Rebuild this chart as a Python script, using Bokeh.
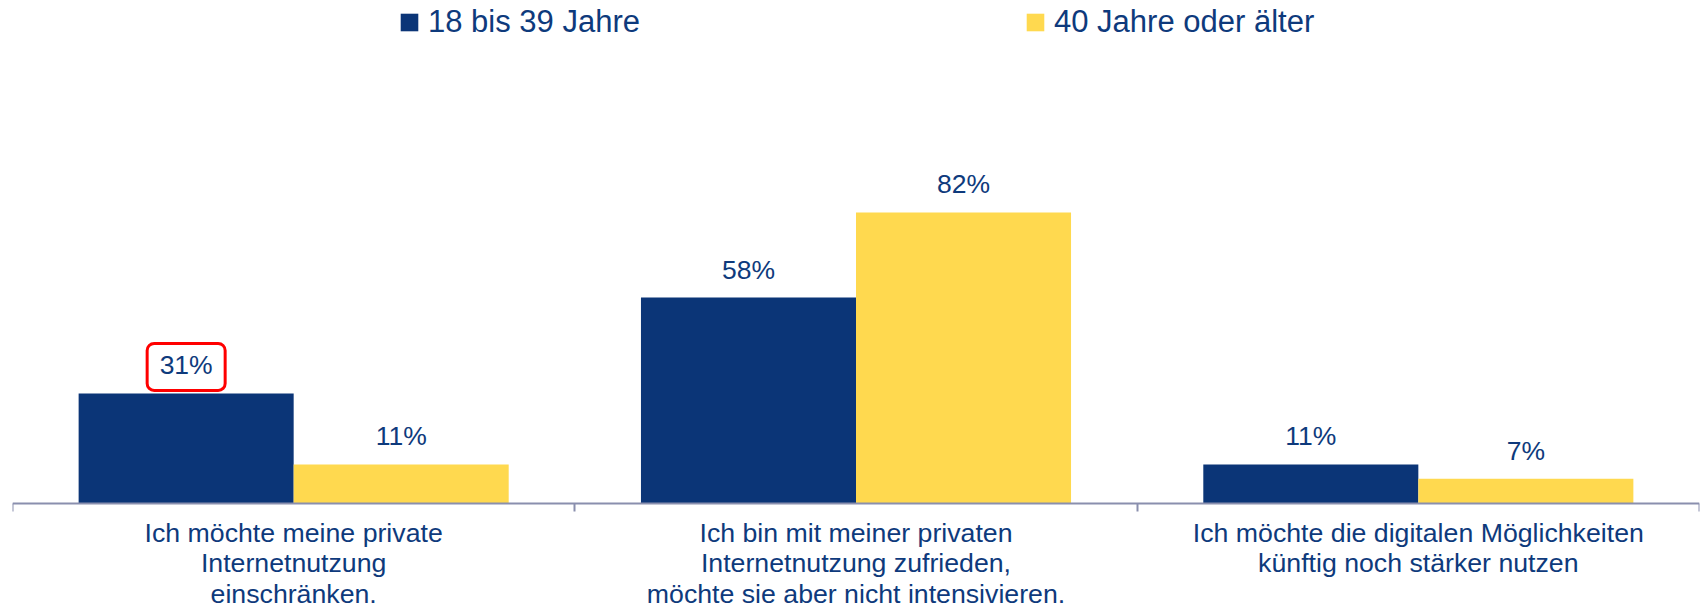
from bokeh.plotting import figure
from bokeh.models import FixedTicker, Legend, LegendItem, Range1d
from bokeh.core.properties import value
from bokeh.embed import file_html
from bokeh.resources import INLINE

# ---- data ----
categories = [
    "Ich möchte meine private\nInternetnutzung\neinschränken.",
    "Ich bin mit meiner privaten\nInternetnutzung zufrieden,\nmöchte sie aber nicht intensivieren.",
    "Ich möchte die digitalen Möglichkeiten\nkünftig noch stärker nutzen",
]
series_names = ["18 bis 39 Jahre", "40 Jahre oder älter"]
young = [31, 58, 11]
old = [11, 82, 7]
highlight_category = 0  # value of the first series that is circled in red

# ---- style ----
BLUE = "#0B3577"
YELLOW = "#FFD94F"
TEXT = "#0E3A7C"
AXIS = "#8A8FAE"
FONT = "Liberation Sans"

W, H = 1702, 607
PX_PER_UNIT = 3.55
ABOVE_PX = 503           # frame px above the zero line
BELOW_PX = H - ABOVE_PX  # frame px below the zero line (room for labels)
Y_END = ABOVE_PX / PX_PER_UNIT
Y_START = -BELOW_PX / PX_PER_UNIT
LEFT, RIGHT = 12, 3
FRAME_W = W - LEFT - RIGHT
px_x = FRAME_W / 3.0

p = figure(width=W, height=H, output_backend="svg", toolbar_location=None,
           x_range=Range1d(0, 3), y_range=Range1d(Y_START, Y_END),
           min_border_left=LEFT, min_border_right=RIGHT, min_border_top=0,
           min_border_bottom=0)
p.outline_line_color = None
p.xgrid.visible = False
p.ygrid.visible = False
p.yaxis.visible = False

bw = 0.3824
n = len(categories)
x_young = [i + 0.5 - bw / 2 for i in range(n)]
x_old = [i + 0.5 + bw / 2 for i in range(n)]

r1 = p.vbar(x=x_young, top=young, width=bw, bottom=0, fill_color=BLUE, line_color=None)
r2 = p.vbar(x=x_old, top=old, width=bw, bottom=0, fill_color=YELLOW, line_color=None)

for xs, vals in ((x_young, young), (x_old, old)):
    p.text(x=xs, y=vals, text=[f"{v}%" for v in vals], text_align="center",
           text_baseline="alphabetic", y_offset=-28, text_font=value(FONT),
           text_font_size="26.5px", text_color=TEXT)

# red highlight box around the first label
hc = highlight_category
xc = x_young[hc]
vc = young[hc]
p.quad(left=[xc - 39 / px_x], right=[xc + 39 / px_x],
       bottom=[vc + 3 / PX_PER_UNIT], top=[vc + 50 / PX_PER_UNIT],
       fill_color=None, line_color="#FF0000", line_width=3, border_radius=7)

ax = p.xaxis[0]
ax.fixed_location = 0
ax.ticker = FixedTicker(ticks=[i + 0.5 for i in range(n)], minor_ticks=list(range(n + 1)))
ax.major_label_overrides = {i + 0.5: categories[i] for i in range(n)}
ax.axis_line_color = AXIS
ax.axis_line_width = 2
ax.major_tick_line_color = None
ax.major_tick_out = 0
ax.major_tick_in = 0
ax.minor_tick_line_color = AXIS
ax.minor_tick_line_width = 2
ax.minor_tick_out = 8
ax.minor_tick_in = 0
ax.major_label_standoff = 6
ax.major_label_text_font = FONT
ax.major_label_text_font_size = "26.7px"
ax.major_label_text_color = TEXT
ax.major_label_text_line_height = 1.02

legend = Legend(items=[LegendItem(label=series_names[0], renderers=[r1]),
                       LegendItem(label=series_names[1], renderers=[r2])],
                orientation="horizontal", location=(386, 567),
                glyph_width=22, glyph_height=22, label_standoff=8, spacing=384,
                padding=0, margin=0, border_line_color=None, background_fill_alpha=0,
                label_text_font=FONT, label_text_font_size="31px", label_text_color=TEXT)
p.add_layout(legend)

open("out.html", "w").write(file_html(p, INLINE))
